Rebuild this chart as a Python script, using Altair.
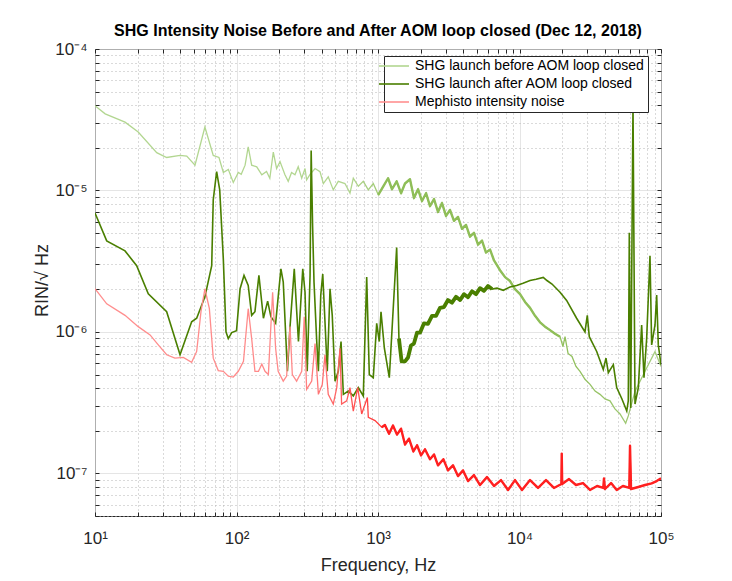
import altair as alt
import pandas as pd

# ---------------- data ----------------
series_names = [
    "SHG launch before AOM loop closed",
    "SHG launch after AOM loop closed",
    "Mephisto intensity noise",
]

before_f = [10, 11.8, 16.3, 20.2, 27.3, 32.1, 39.9, 44.5, 50.9, 59.8,
            68.5, 75.2, 80.7, 87.5, 94.9, 103, 108, 115, 121, 128,
            139, 151, 163, 172, 182, 192, 203, 220, 232, 245,
            259, 273, 289, 305, 313, 331, 359, 389, 411, 445,
            483, 524, 584, 634, 669, 726, 787, 854, 926, 1005,
            1090, 1178, 1256, 1355, 1455, 1552, 1683, 1795, 1918, 2047,
            2185, 2330, 2488, 2655, 2833, 3025, 3227, 3443, 3675, 3925,
            4188, 4467, 4766, 5093, 5433, 5796, 6194, 6607, 7280, 7907,
            8570, 9290, 10090, 10940, 11870, 12880, 13970, 15150, 16440, 17820,
            19340, 20280, 20980, 22030, 23500, 25070, 26770, 29020, 31510, 34200,
            37070, 40180, 43620, 47270, 51330, 56260, 58730, 65500, 77100, 90700, 100000]
before_v = [3.97e-5, 3.48e-5, 3.04e-5, 2.59e-5, 1.85e-5, 1.71e-5, 1.77e-5, 1.75e-5, 1.51e-5, 2.81e-5,
            1.77e-5, 1.71e-5, 1.34e-5, 1.41e-5, 1.14e-5, 1.34e-5, 1.30e-5, 1.51e-5, 2.03e-5, 1.51e-5,
            1.47e-5, 1.29e-5, 1.36e-5, 1.22e-5, 1.87e-5, 1.43e-5, 1.60e-5, 1.29e-5, 1.16e-5, 1.34e-5,
            1.29e-5, 1.47e-5, 1.22e-5, 1.43e-5, 1.19e-5, 1.30e-5, 1.43e-5, 1.36e-5, 1.12e-5, 1.25e-5,
            1.01e-5, 1.16e-5, 1.12e-5, 9.58e-6, 1.22e-5, 1.07e-5, 1.16e-5, 1.01e-5, 1.12e-5, 9.32e-6,
            1.07e-5, 1.22e-5, 1.02e-5, 1.16e-5, 9.57e-6, 1.12e-5, 1.20e-5, 8.84e-6, 1.02e-5, 8.42e-6,
            9.57e-6, 7.76e-6, 8.69e-6, 7.05e-6, 8.15e-6, 6.61e-6, 7.28e-6, 6.10e-6, 6.50e-6, 5.36e-6,
            5.71e-6, 4.71e-6, 5.02e-6, 4.14e-6, 4.42e-6, 3.64e-6, 3.82e-6, 3.20e-6, 2.73e-6, 2.44e-6,
            2.29e-6, 2.01e-6, 1.85e-6, 1.63e-6, 1.48e-6, 1.30e-6, 1.17e-6, 1.09e-6, 1.03e-6, 9.72e-7,
            9.26e-7, 7.89e-7, 9.26e-7, 7.05e-7, 6.71e-7, 5.71e-7, 5.27e-7, 4.63e-7, 4.26e-7, 3.82e-7,
            3.62e-7, 3.36e-7, 3.26e-7, 2.86e-7, 2.63e-7, 2.26e-7, 2.55e-7, 3.8e-7, 5.27e-7, 7.26e-7, 5.70e-7]

after_f = [10, 12.1, 16.3, 19.7, 23.8, 32.1, 39.9, 48.2, 52.3, 59.8,
           66.8, 68.5, 72.4, 76.1, 80.7, 84.3, 87.5, 92.5, 100, 106,
           113, 121, 128, 135, 144, 155, 166, 175, 189, 206,
           214, 229, 239, 256, 274, 294, 305, 316, 331, 337,
           345, 353, 369, 379, 394, 407, 422, 438, 458, 475,
           497, 524, 548, 569, 617, 669, 726, 787, 832, 868,
           926, 979, 1021, 1050, 1109, 1202, 1355, 1406, 1469, 1552,
           1630, 1710, 1795, 1888, 1982, 2113, 2255, 2408, 2570, 2742,
           2925, 3124, 3333, 3557, 3800, 4055, 4327, 4618, 4932, 5260,
           5613, 5990, 6396, 6934, 7687, 8570, 9550, 10590, 11870, 13090,
           14720, 15630, 16970, 19340, 21530, 25330, 29020, 30140, 31130, 35120,
           39090, 40840, 42430, 46040, 48630, 52960, 57280, 58730, 59700, 61090,
           63400, 65500, 69150, 73000, 75800, 79200, 83600, 85900, 90700, 93200, 95700, 100000]
after_v = [6.93e-6, 4.40e-6, 3.74e-6, 2.94e-6, 1.86e-6, 1.39e-6, 6.90e-7, 1.18e-6, 1.25e-6, 1.77e-6,
           2.94e-6, 8.60e-6, 1.36e-5, 1.01e-5, 3.27e-6, 1.00e-6, 8.98e-7, 9.9e-7, 1.02e-6, 2.02e-6,
           2.51e-6, 2.13e-6, 1.31e-6, 1.39e-6, 2.51e-6, 1.25e-6, 1.65e-6, 1.28e-6, 1.15e-6, 2.79e-6,
           2.25e-6, 5.27e-7, 1.09e-6, 2.79e-6, 8.55e-7, 2.79e-6, 1.91e-6, 5.27e-7, 2.51e-6, 1.92e-5,
           5.6e-6, 2.25e-6, 8.55e-7, 5.27e-7, 1.82e-6, 2.57e-6, 1.18e-6, 5.27e-7, 2.02e-6, 1.31e-6,
           4.49e-7, 5.27e-7, 8.55e-7, 3.62e-7, 3.82e-7, 3.53e-7, 4.04e-7, 3.53e-7, 2.44e-6, 5.0e-7,
           4.75e-7, 1.15e-6, 8.55e-7, 1.39e-6, 7.67e-7, 4.75e-7, 3.95e-6, 8.98e-7, 6.19e-7, 6.19e-7,
           6.60e-7, 8.02e-7, 8.28e-7, 9.89e-7, 9.88e-7, 1.15e-6, 1.14e-6, 1.30e-6, 1.30e-6, 1.48e-6,
           1.50e-6, 1.68e-6, 1.61e-6, 1.77e-6, 1.68e-6, 1.85e-6, 1.76e-6, 1.94e-6, 1.85e-6, 2.04e-6,
           1.95e-6, 2.11e-6, 2.01e-6, 2.04e-6, 1.97e-6, 2.08e-6, 2.13e-6, 2.21e-6, 2.31e-6, 2.36e-6,
           2.43e-6, 2.31e-6, 2.18e-6, 1.91e-6, 1.67e-6, 1.25e-6, 1.0e-6, 1.31e-6, 9.26e-7, 7.28e-7,
           5.42e-7, 6.53e-7, 5.15e-7, 5.87e-7, 4.04e-7, 3.36e-7, 2.76e-7, 3.26e-7, 5.02e-6, 2.90e-7,
           4.08e-5, 3.09e-7, 4.04e-7, 1.12e-6, 4.75e-7, 8.98e-7, 3.45e-6, 8.1e-7, 1.12e-6, 1.82e-6, 8.1e-7, 5.87e-7]

meph_f = [10, 12.1, 16.3, 20.2, 24.5, 28.0, 32.1, 36.7, 42.1, 48.2,
          52.3, 56.1, 59.8, 64.3, 68.5, 74.3, 80.7, 87.5, 94.9, 103,
          112, 121, 128, 135, 143, 151, 159, 168, 180, 189,
          197, 214, 226, 239, 248, 266, 289, 301, 313, 340,
          359, 379, 404, 422, 445, 483, 511, 539, 553, 601,
          634, 669, 719, 767, 841, 854, 953, 1062, 1119, 1197,
          1276, 1362, 1455, 1552, 1656, 1778, 1888, 2014, 2148, 2330,
          2488, 2655, 2897, 3124, 3388, 3675, 3991, 4327, 4766, 5260,
          5890, 6607, 7400, 8300, 9290, 10420, 11870, 13520, 15390, 17520,
          19770, 19880, 20030, 22390, 25070, 28100, 31510, 35320, 39090, 39540,
          40180, 44360, 48630, 53800, 59700, 60400, 61400, 69150, 77100, 85900, 93200, 100000]
meph_v = [2.02e-6, 1.58e-6, 1.31e-6, 1.09e-6, 9.53e-7, 8.11e-7, 6.90e-7, 6.53e-7, 6.6e-7, 6.10e-7,
          7.28e-7, 1.39e-6, 2.02e-6, 1.46e-6, 6.53e-7, 5.33e-7, 5.27e-7, 4.87e-7, 4.80e-7, 5.27e-7,
          6.19e-7, 1.46e-6, 8.98e-7, 5.27e-7, 5.27e-7, 5.93e-7, 5.27e-7, 5.0e-7, 1.91e-6, 7.67e-7,
          5.27e-7, 4.49e-7, 4.87e-7, 1.09e-6, 5.0e-7, 4.49e-7, 5.27e-7, 1.28e-6, 3.93e-7, 4.49e-7,
          8.28e-7, 3.62e-7, 4.26e-7, 6.90e-7, 3.62e-7, 3.09e-7, 4.04e-7, 7.67e-7, 3.09e-7, 3.26e-7,
          4.04e-7, 2.76e-7, 4.04e-7, 2.63e-7, 3.44e-7, 2.49e-7, 2.36e-7, 2.12e-7, 2.20e-7, 1.91e-7,
          2.18e-7, 1.88e-7, 2.07e-7, 1.60e-7, 1.76e-7, 1.43e-7, 1.58e-7, 1.34e-7, 1.48e-7, 1.26e-7,
          1.36e-7, 1.14e-7, 1.26e-7, 1.05e-7, 1.14e-7, 9.57e-8, 1.05e-7, 8.83e-8, 9.73e-8, 8.28e-8,
          9.42e-8, 8.15e-8, 8.97e-8, 7.64e-8, 8.97e-8, 7.64e-8, 8.97e-8, 7.89e-8, 8.97e-8, 7.89e-8,
          8.41e-8, 1.38e-7, 8.41e-8, 9.12e-8, 8.28e-8, 8.55e-8, 7.64e-8, 8.15e-8, 7.89e-8, 9.23e-8,
          7.76e-8, 8.55e-8, 7.64e-8, 8.15e-8, 7.89e-8, 1.57e-7, 7.76e-8, 8.02e-8, 8.28e-8, 8.51e-8, 8.83e-8, 9.23e-8]

# frequency ranges where the measured traces are dense noise bands (drawn thicker)
before_dense = [1000, 20000]
after_dense = [1400, 6400]
meph_dense = [1000, 100000]

# axis ticks / labels
x_major = [10, 100, 1000, 10000, 100000]
x_major_labels = ["10\u00b9", "10\u00b2", "10\u00b3", "10\u2074", "10\u2075"]
y_major = [1e-7, 1e-6, 1e-5, 1e-4]
y_major_labels = ["10\u207b\u2077", "10\u207b\u2076", "10\u207b\u2075", "10\u207b\u2074"]
x_ticks = sorted(x_major + [d * m for d in x_major[:-1] for m in range(2, 10)])
y_ticks = sorted(y_major + [1e-8 * m for m in range(5, 10)]
                 + [d * m for d in y_major[:-1] for m in range(2, 10)])

# style
legend_colors = ["#b2d690", "#4a7f00", "#ff9090"]
FONT = "Liberation Sans"
INK = "#262626"


def label_expr(vals, labels):
    expr = "''"
    for v, lab in reversed(list(zip(vals, labels))):
        expr = f"datum.value == {v!r} ? '{lab}' : ({expr})"
    return expr


def major_test(vals):
    return "indexof([" + ",".join(repr(v) for v in vals) + "], datum.value) >= 0"


def frame(name, f, v):
    return pd.DataFrame({"series": name, "f": f, "v": v})


df_before = frame(series_names[0], before_f, before_v)
df_after = frame(series_names[1], after_f, after_v)
df_meph = frame(series_names[2], meph_f, meph_v)
df_all = pd.concat([df_before, df_after, df_meph], ignore_index=True)

xscale = alt.Scale(type="log", domain=[10, 100000], nice=False)
yscale = alt.Scale(type="log", domain=[5e-8, 1e-4], nice=False)

common_axis = dict(
    grid=True, domain=False, ticks=True, tickSize=4, tickColor=INK,
    offset=-4, labelFont=FONT, labelFontSize=17, labelColor=INK,
    labelOverlap=False, labelFlush=False, labelBound=False,
    titleFont=FONT, titleFontSize=18, titleFontWeight="normal", titleColor=INK,
    gridWidth=1,
)

x_axis = alt.Axis(
    values=x_ticks, labelExpr=label_expr(x_major, x_major_labels),
    gridDash={"condition": {"test": major_test(x_major), "value": [1, 0]}, "value": [1, 3]},
    gridColor={"condition": {"test": major_test(x_major), "value": "#dcdcdc"}, "value": "#b4b4b4"},
    labelPadding=14, title="Frequency, Hz", titleY=58, titleBaseline="alphabetic",
    **common_axis,
)
y_axis = alt.Axis(
    values=y_ticks, labelExpr=label_expr(y_major, y_major_labels),
    gridDash={"condition": {"test": major_test(y_major), "value": [1, 0]}, "value": [1, 3]},
    gridColor={"condition": {"test": major_test(y_major), "value": "#dcdcdc"}, "value": "#b4b4b4"},
    labelPadding=8, title="RIN/\u221a Hz", titleX=-52, titleY=231, titleAngle=270,
    titleAlign="center", titleBaseline="alphabetic",
    **common_axis,
)

grad_before = alt.Gradient(
    gradient="linear", x1=0, x2=1, y1=0, y2=0,
    stops=[alt.GradientStop(color="#b2d690", offset=0),
           alt.GradientStop(color="#b2d690", offset=0.45),
           alt.GradientStop(color="#8cbd52", offset=0.56),
           alt.GradientStop(color="#92c05e", offset=0.85),
           alt.GradientStop(color="#a6cd80", offset=1)],
)
grad_meph = alt.Gradient(
    gradient="linear", x1=0, x2=1, y1=0, y2=0,
    stops=[alt.GradientStop(color="#ff8e8e", offset=0),
           alt.GradientStop(color="#ff8a8a", offset=0.36),
           alt.GradientStop(color="#ff3a3a", offset=0.5),
           alt.GradientStop(color="#ff1f1f", offset=0.62),
           alt.GradientStop(color="#ff2424", offset=1)],
)

X0 = alt.X("f:Q", scale=xscale, axis=None)
Y0 = alt.Y("v:Q", scale=yscale, axis=None)


def dense(df, rng, color, width):
    return (alt.Chart(df)
            .transform_filter((alt.datum.f >= rng[0]) & (alt.datum.f <= rng[1]))
            .mark_line(color=color, strokeWidth=width, clip=True, strokeJoin="round")
            .encode(x=X0, y=Y0))


line_before = alt.Chart(df_before).mark_line(color=grad_before, strokeWidth=1.3, clip=True).encode(
    x=alt.X("f:Q", scale=xscale, axis=x_axis),
    y=alt.Y("v:Q", scale=yscale, axis=y_axis),
)
band_before = dense(df_before, before_dense, "#8fbe58", 2.4)
line_after = alt.Chart(df_after).mark_line(color="#4a7f00", strokeWidth=1.6, clip=True).encode(x=X0, y=Y0)
band_after = dense(df_after, after_dense, "#4a7f00", 3.8)
line_meph = alt.Chart(df_meph).mark_line(color=grad_meph, strokeWidth=1.3, clip=True).encode(x=X0, y=Y0)
band_meph = dense(df_meph, meph_dense, "#ff2020", 2.4)

box_axis = dict(labels=False, grid=False, domain=False, ticks=True, tickSize=4,
                tickColor=INK, offset=-4, title=None, minExtent=0, maxExtent=0)

legend_layer = alt.Chart(df_all).mark_line(opacity=0).encode(
    x=alt.X("f:Q", scale=xscale, axis=alt.Axis(orient="top", values=x_ticks, **box_axis)),
    y=alt.Y("v:Q", scale=yscale, axis=alt.Axis(orient="right", values=y_ticks, **box_axis)),
    color=alt.Color(
        "series:N", sort=series_names,
        scale=alt.Scale(domain=series_names, range=legend_colors),
        legend=alt.Legend(
            title=None, orient="none", legendX=289, legendY=7,
            symbolType="M-3,0H3", symbolSize=100, symbolStrokeWidth=1.6, symbolOpacity=1,
            symbolFillColor="transparent",
            labelFont=FONT, labelFontSize=14, labelColor="#000", labelOffset=14, labelLimit=400,
            padding=3, rowPadding=4, strokeColor=INK, fillColor="white",
        ),
    ),
)

chart = (
    alt.layer(line_before, band_before, line_after, band_after, line_meph, band_meph, legend_layer)
    .resolve_axis(x="independent", y="independent")
    .properties(
        width=566, height=467,
        autosize=alt.AutoSizeParams(type="none"),
        padding={"left": 87, "top": 41, "right": 63, "bottom": 62},
        title=alt.TitleParams(
            text="SHG Intensity Noise Before and After AOM loop closed (Dec 12, 2018)",
            font=FONT, fontSize=16, fontWeight="bold", color="#000",
            anchor="middle", frame="group", baseline="alphabetic", offset=10, dy=22,
        ),
        background="white",
    )
    .configure_view(stroke=INK, strokeWidth=1)
)

chart.save("out.html", embed_options={"renderer": "svg", "actions": False})
